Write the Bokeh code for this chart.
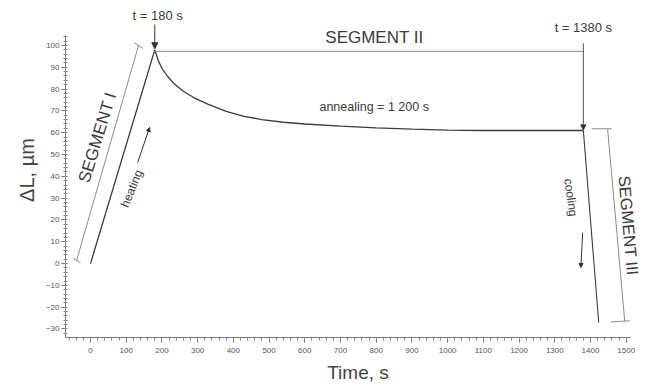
from bokeh.plotting import figure
from bokeh.models import Label, Arrow, NormalHead, FixedTicker, Range1d
from bokeh.embed import file_html
from bokeh.resources import INLINE

# ---- data ----
heat_t = [0, 180]
heat_dl = [0, 98]

anneal_t = [180, 190, 200, 215, 235, 260, 290, 330, 380, 430, 480, 540, 600, 700, 800, 900, 1000, 1100, 1200, 1300, 1380]
anneal_dl = [98, 93, 89.5, 86, 82.3, 79, 76, 73, 69.8, 67.5, 66, 64.8, 64, 63, 62.2, 61.6, 61.2, 61, 61, 61, 61]

cool_t = [1380, 1400, 1423]
cool_dl = [61, 20, -27]

x_ticks = list(range(0, 1501, 100))
x_minor = list(range(-60, 1512, 20))
y_ticks = list(range(-30, 101, 10))
y_minor = list(range(-34, 105, 2))

t_peak = 180
t_end = 1380

FONT = "Liberation Sans"
INK = "#3a3a3a"
GREY = "#8a8a8a"

X_AX = (-70, 1512)
Y_AX = (-33.9, 104.6)

p = figure(width=652, height=386, x_range=Range1d(-70, 1568), y_range=Range1d(-33.9, 119.7),
           output_backend="svg", toolbar_location=None,
           min_border_left=65, min_border_right=2, min_border_top=2, min_border_bottom=49)
p.outline_line_color = None
p.grid.visible = False
p.background_fill_color = "white"
p.border_fill_color = "white"

for ax in (p.xaxis[0], p.yaxis[0]):
    ax.axis_line_color = "#777777"
    ax.major_tick_line_color = "#666666"
    ax.minor_tick_line_color = "#888888"
    ax.major_label_text_font = FONT
    ax.major_label_text_font_size = "8px"
    ax.major_label_text_color = "#555555"
    ax.axis_label_text_font = FONT
    ax.axis_label_text_font_style = "normal"
    ax.axis_label_text_color = "#444444"

p.xaxis.bounds = X_AX
p.yaxis.bounds = Y_AX
p.xaxis.ticker = FixedTicker(ticks=x_ticks, minor_ticks=x_minor)
p.yaxis.ticker = FixedTicker(ticks=y_ticks, minor_ticks=y_minor)
p.xaxis.major_tick_out = 5
p.xaxis.major_tick_in = 0
p.xaxis.minor_tick_out = 3
p.xaxis.minor_tick_in = 0
p.xaxis.major_label_standoff = 5
p.yaxis.major_tick_out = 4
p.yaxis.major_tick_in = 0
p.yaxis.minor_tick_out = 2
p.yaxis.minor_tick_in = 2
p.yaxis.major_label_standoff = 2

p.xaxis.axis_label = "Time, s"
p.xaxis.axis_label_text_font_size = "19px"
p.xaxis.axis_label_standoff = 6
p.yaxis.axis_label = "ΔL, µm"
p.yaxis.axis_label_text_font_size = "20px"
p.yaxis.axis_label_standoff = 5

# main curve
p.line(heat_t, heat_dl, line_color=INK, line_width=1.3)
p.line(anneal_t, anneal_dl, line_color=INK, line_width=1.3)
p.line(cool_t, cool_dl, line_color=INK, line_width=1.1)

# segment I bracket
p.line([-39, 134.5], [1.4, 100], line_color=GREY, line_width=1)
p.line([-50, -28], [2.4, 0.4], line_color=GREY, line_width=1)
p.line([123, 146], [101.2, 98.8], line_color=GREY, line_width=1)

# segment II lines
p.line([t_peak, t_end], [97.3, 97.3], line_color=GREY, line_width=1)
p.add_layout(Arrow(x_start=t_end, y_start=101, x_end=t_end, y_end=61.3,
                   line_color="#555555", line_width=1,
                   end=NormalHead(size=5, fill_color="#333333", line_color="#333333")))

# segment III bracket
p.line([1448, 1496], [61.5, -26.6], line_color=GREY, line_width=1)
p.line([1403, 1459], [61.8, 61.8], line_color=GREY, line_width=1)
p.line([1457, 1510], [-26.8, -26.2], line_color=GREY, line_width=1)

# top arrow at peak
p.add_layout(Arrow(x_start=t_peak, y_start=109.5, x_end=t_peak, y_end=98.5,
                   line_color="#333333", line_width=1,
                   end=NormalHead(size=6, fill_color="#333333", line_color="#333333")))

# heating / cooling arrows
p.add_layout(Arrow(x_start=132, y_start=46.3, x_end=165.5, y_end=62.4,
                   line_color="#333333", line_width=1,
                   end=NormalHead(size=4, fill_color="#333333", line_color="#333333")))
p.add_layout(Arrow(x_start=1378, y_start=14.2, x_end=1373, y_end=-1.8,
                   line_color="#333333", line_width=1,
                   end=NormalHead(size=4, fill_color="#333333", line_color="#333333")))

def lab(x, y, text, size, angle=0, align="center", color=INK):
    p.add_layout(Label(x=x, y=y, text=text, text_font=FONT, text_font_size=size,
                       text_color=color, angle=angle, angle_units="deg",
                       text_align=align, text_baseline="middle"))

lab(188, 113.8, "t = 180 s", "13px")
lab(1380, 108.3, "t = 1380 s", "13px")
lab(795, 103.7, "SEGMENT II", "17px")
lab(641, 71.6, "annealing = 1 200 s", "12.5px", align="left")
lab(19.6, 57.8, "SEGMENT I", "17px", angle=73)
lab(115, 34.4, "heating", "12px", angle=68)
lab(1507, 17.4, "SEGMENT III", "16.5px", angle=-85)
lab(1345, 30.3, "cooling", "12px", angle=-82)

open("out.html", "w").write(file_html(p, INLINE))
